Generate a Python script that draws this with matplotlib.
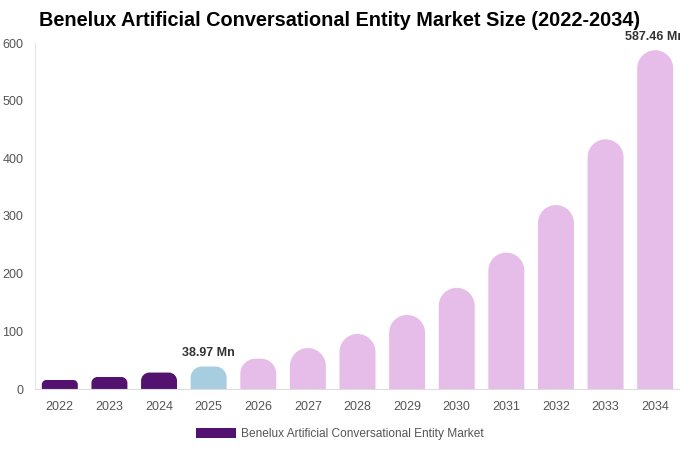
import matplotlib
matplotlib.use("Agg")
import matplotlib.pyplot as plt
from matplotlib.path import Path
from matplotlib.patches import PathPatch, Patch

plt.rcParams["font.family"] = ["Liberation Sans", "DejaVu Sans"]

years = ["2022", "2023", "2024", "2025", "2026", "2027", "2028",
         "2029", "2030", "2031", "2032", "2033", "2034"]
values = [15.6, 20.8, 28.5, 38.97, 52.5, 71.0, 95.5, 128.5, 175.5, 236.5, 319.0, 433.0, 587.46]
bar_colors = ["#541270"] * 3 + ["#a6cde0"] + ["#e6bde8"] * 9
labels = {3: "38.97 Mn", 12: "587.46 Mn"}

fig = plt.figure(figsize=(6.8, 4.5), dpi=100)
ax = fig.add_axes([35 / 680, 1 - 389 / 450, 645 / 680, 346 / 450])
ax.set_xlim(-0.5, len(years) - 0.5)
ax.set_ylim(0, 600)

bars = ax.bar(range(len(years)), values, width=0.725, color=bar_colors)

# round tops: radius in pixels turned into data units
px_x = (len(years)) / 645
px_y = 600 / 346
for b, c in zip(bars, bar_colors):
    b.set_visible(False)
    x0, w, h = b.get_x(), b.get_width(), b.get_height()
    r_px = min(w / px_x / 2, h / px_y / 2)
    rx, ry = r_px * px_x, r_px * px_y
    k = 0.5523
    verts = [(x0, 0), (x0, h - ry),
             (x0, h - ry + k * ry), (x0 + rx - k * rx, h), (x0 + rx, h),
             (x0 + w - rx, h),
             (x0 + w - rx + k * rx, h), (x0 + w, h - ry + k * ry), (x0 + w, h - ry),
             (x0 + w, 0), (x0, 0)]
    codes = [Path.MOVETO, Path.LINETO,
             Path.CURVE4, Path.CURVE4, Path.CURVE4,
             Path.LINETO,
             Path.CURVE4, Path.CURVE4, Path.CURVE4,
             Path.LINETO, Path.CLOSEPOLY]
    ax.add_patch(PathPatch(Path(verts, codes), facecolor=c, edgecolor="none"))

for i, txt in labels.items():
    ax.annotate(txt, (i, values[i]), xytext=(0, 5.5), textcoords="offset points",
                ha="center", va="bottom", fontsize=9, fontweight="bold",
                color="#333333", annotation_clip=False)

ax.set_xticks(range(len(years)))
ax.set_xticklabels(years)
ax.set_yticks(range(0, 601, 100))
ax.tick_params(axis="both", length=0, colors="#555555", labelsize=9)
ax.tick_params(axis="x", pad=9)
ax.tick_params(axis="y", pad=8.5)
for s in ["top", "right"]:
    ax.spines[s].set_visible(False)
ax.spines["left"].set_color("#e6e6e6")
ax.spines["bottom"].set_color("#dddddd")

fig.text(0.5, 1 - 21 / 450, "Benelux Artificial Conversational Entity Market Size (2022-2034)",
         ha="center", va="center", fontsize=14.3, fontweight="bold", color="#000000")

fig.legend(handles=[Patch(facecolor="#541270", label="Benelux Artificial Conversational Entity Market")],
           loc="center", bbox_to_anchor=(340 / 680, 1 - 434 / 450), frameon=False,
           fontsize=8.6, handlelength=3.3, handleheight=1.0, handletextpad=0.45,
           labelcolor="#555555")

fig.savefig("out.png", dpi=100)
